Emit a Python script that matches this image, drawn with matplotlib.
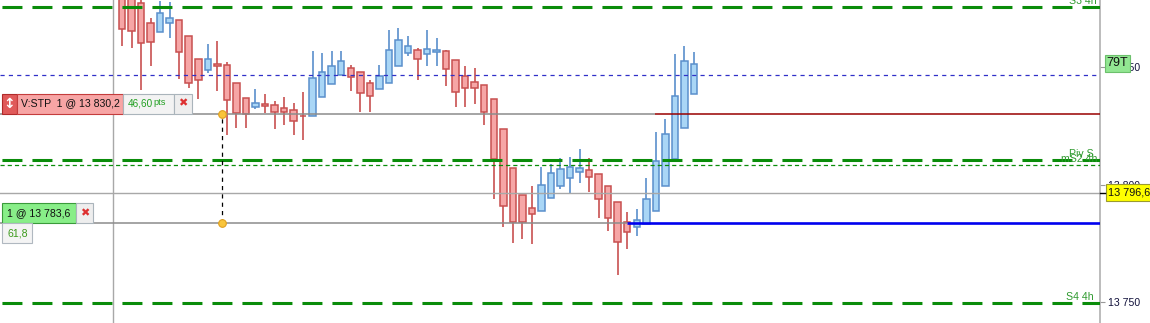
import numpy as np
import matplotlib
matplotlib.use("Agg")
import matplotlib.pyplot as plt
from matplotlib.patches import Rectangle
from matplotlib.transforms import blended_transform_factory

# candle data
opens = [13882.0, 13880.5, 13877.2, 13868.7, 13864.9, 13868.7, 13870.0, 13863.2, 13853.4, 13848.7,
         13851.3, 13850.9, 13843.2, 13836.8, 13833.0, 13834.3, 13833.8, 13832.6, 13831.7, 13829.2,
         13829.1, 13837.2, 13842.8, 13846.6, 13849.6, 13847.9, 13843.2, 13840.6, 13843.2, 13850.4,
         13856.0, 13857.2, 13855.5, 13856.4, 13856.8, 13853.0, 13846.2, 13843.6, 13842.3, 13836.4,
         13823.6, 13807.0, 13795.5, 13790.0, 13788.7, 13794.3, 13799.4, 13802.8, 13805.3, 13806.2,
         13804.5, 13799.4, 13792.6, 13784.0, 13781.9, 13783.2, 13788.7, 13799.4, 13810.9, 13824.0,
         13838.5]
highs = [13885.0, 13883.0, 13879.0, 13870.9, 13878.1, 13877.7, 13870.0, 13863.2, 13853.4, 13859.8,
         13861.1, 13852.1, 13843.2, 13836.8, 13840.6, 13838.5, 13835.5, 13837.2, 13834.7, 13839.4,
         13856.8, 13856.0, 13856.8, 13856.8, 13850.9, 13847.9, 13844.5, 13850.9, 13865.7, 13866.6,
         13863.2, 13858.1, 13865.7, 13862.3, 13857.2, 13853.0, 13850.4, 13849.6, 13842.3, 13836.4,
         13823.6, 13807.0, 13795.5, 13799.4, 13807.4, 13808.7, 13811.3, 13811.7, 13815.1, 13811.3,
         13804.5, 13799.4, 13792.6, 13788.3, 13789.6, 13802.8, 13822.3, 13827.9, 13855.5, 13858.9,
         13856.4]
lows = [13858.9, 13858.1, 13840.2, 13850.4, 13864.9, 13862.3, 13844.9, 13841.1, 13836.4, 13847.4,
        13839.8, 13821.1, 13824.0, 13824.0, 13832.1, 13830.4, 13823.6, 13825.3, 13821.1, 13818.9,
        13829.1, 13837.2, 13842.8, 13846.6, 13839.8, 13830.9, 13830.9, 13840.6, 13843.2, 13850.4,
        13854.7, 13844.5, 13850.4, 13850.4, 13841.9, 13833.0, 13833.0, 13834.3, 13825.3, 13793.8,
        13781.9, 13775.1, 13776.8, 13774.7, 13788.7, 13794.3, 13798.1, 13796.4, 13800.6, 13796.8,
        13785.7, 13780.2, 13761.5, 13772.6, 13778.1, 13783.2, 13788.7, 13799.4, 13810.9, 13824.0,
        13838.5]
closes = [13866.2, 13865.3, 13860.2, 13860.6, 13873.0, 13870.9, 13856.4, 13843.2, 13844.5, 13853.4,
          13850.4, 13836.0, 13830.4, 13830.0, 13834.7, 13833.4, 13830.9, 13830.9, 13827.0, 13829.0,
          13845.3, 13847.9, 13850.4, 13852.6, 13845.7, 13838.9, 13837.7, 13846.2, 13857.2, 13861.5,
          13858.9, 13853.4, 13857.7, 13857.2, 13849.1, 13839.4, 13841.1, 13841.1, 13830.9, 13810.9,
          13790.9, 13784.0, 13784.0, 13787.4, 13799.8, 13804.9, 13806.6, 13807.4, 13807.0, 13803.2,
          13793.8, 13785.7, 13775.5, 13779.8, 13784.9, 13793.8, 13810.0, 13821.5, 13837.7, 13852.6,
          13851.3]

# price levels
S3_4H = 13875.5
BLUE_DASH = 13846.6
STOP = 13830.2
PIV_S = 13810.4
MS2_4H = 13808.3
LAST = 13796.6
ENTRY = 13783.6
S4_4H = 13749.6

ytick_values = [13750, 13800, 13850]
ytick_labels = ["13 750", "13 800", "13 850"]

stop_label = "V:STP  1 @ 13 830,2"
stop_pts = "46,60"
entry_label = "1 @ 13 783,6"
entry_pts = "61,8"
last_label = "13 796,6"
timer_label = "79T"

YMIN, YMAX = 13741.1, 13878.5
XMIN, XMAX = -11.8, 103.6
AX_PX = 1100.0
PP = (YMAX - YMIN) / 323.0  # price per pixel

FONT = ["Liberation Sans", "DejaVu Sans"]
plt.rcParams["font.family"] = FONT
plt.rcParams["lines.scale_dashes"] = False

RED_FILL, RED_EDGE = "#f6a6a6", "#c85050"
BLUE_FILL, BLUE_EDGE = "#a9d6f6", "#5a8fcc"
GREEN = "#0a8c0a"
LABEL_GREEN = "#2f9a2f"


def draw_candles(ax):
    x = np.arange(1, len(opens) + 1)
    o = np.array(opens)
    c = np.array(closes)
    up = c >= o
    fills = np.where(up, BLUE_FILL, RED_FILL)
    edges = np.where(up, BLUE_EDGE, RED_EDGE)
    ax.vlines(x, lows, highs, colors=edges, lw=1.2, zorder=2)
    bottom = np.minimum(o, c)
    height = np.maximum(np.abs(c - o), 0.3)
    ax.bar(x, height, 0.68, bottom=bottom, color=fills, edgecolor=edges,
           linewidth=1.1, zorder=3)


def draw_levels(ax):
    # dashes start ~2 px in from the left edge, like the reference
    thick = (20.2, (14.4, 7.2))
    ax.axhline(S3_4H, color=GREEN, lw=2.2, ls=thick, zorder=4)
    ax.axhline(PIV_S, color=GREEN, lw=2.2, ls=thick, zorder=4)
    ax.axhline(S4_4H, color=GREEN, lw=2.2, ls=thick, zorder=4)
    ax.axhline(MS2_4H, color=GREEN, lw=0.9, ls=(0, (3, 2.2)), zorder=4)
    ax.axhline(BLUE_DASH, color="#3030c8", lw=0.9, ls=(0, (3, 3)), zorder=4)
    ax.axhline(LAST, color="#a8a8a8", lw=1.0, zorder=4)

    ax.hlines(STOP, XMIN, 56.9, color="#8c8c8c", lw=1.1, zorder=4)
    ax.hlines(STOP, 56.9, XMAX, color="#990000", lw=1.1, zorder=4)
    ax.hlines(ENTRY, XMIN, 54.0, color="#8c8c8c", lw=1.1, zorder=4)
    ax.hlines(ENTRY, 54.0, XMAX, color="#0000ee", lw=1.9, zorder=4)

    ax.axvline(0.06, color="#a8a8a8", lw=1.0, zorder=1)
    ax.vlines(11.5, ENTRY, STOP, colors="k", lw=0.9, linestyles=(0, (3, 3)), zorder=5)
    ax.plot([11.5, 11.5], [STOP, ENTRY], "o", ms=5.5, mfc="#f9c53c", mec="#e0a020",
            mew=0.8, zorder=6)


def box(ax, x0, x1, y0, h, fc, ec, lw=0.8):
    trans = blended_transform_factory(ax.transAxes, ax.transData)
    r = Rectangle((x0 / AX_PX, y0), (x1 - x0) / AX_PX, h * PP, transform=trans,
                  facecolor=fc, edgecolor=ec, lw=lw, clip_on=False, zorder=8)
    ax.add_patch(r)


def label(ax, x, y, s, **kw):
    trans = blended_transform_factory(ax.transAxes, ax.transData)
    kw.setdefault("va", "center")
    kw.setdefault("zorder", 9)
    ax.text(x / AX_PX, y, s, transform=trans, clip_on=False, **kw)


def draw_order_tags(ax):
    # stop order tag
    mid = STOP + 10 * PP
    box(ax, 2, 17, STOP, 20, "#e05a5a", "#b02a2a")
    box(ax, 17, 123, STOP, 20, "#f7a5a5", "#c43c3c")
    box(ax, 123, 174, STOP, 20, "#f3f3f3", "#aab4bb")
    box(ax, 174, 192, STOP, 20, "#eeeeee", "#aab4bb")
    label(ax, 9.5, mid, "\u2195", ha="center", color="white", fontsize=10,
          fontweight="bold", family=["DejaVu Sans"])
    label(ax, 21, mid, stop_label, ha="left", fontsize=7.6, color="#111111")
    label(ax, 128, mid, stop_pts, ha="left", fontsize=7.2, color="#22a022")
    label(ax, 153, mid + 0.3, "pts", ha="left", fontsize=6.6, color="#22a022")
    label(ax, 183, mid, "\u2716", ha="center", fontsize=8, color="#dd3030",
          family=["DejaVu Sans"])

    # entry order tag
    mid = ENTRY + 10 * PP
    box(ax, 2, 76, ENTRY, 20, "#88ee88", "#3a9a3a")
    box(ax, 76, 93, ENTRY, 20, "#eeeeee", "#aab4bb")
    label(ax, 7, mid, entry_label, ha="left", fontsize=7.6, color="#111111")
    label(ax, 84.5, mid, "\u2716", ha="center", fontsize=8, color="#dd3030",
          family=["DejaVu Sans"])
    box(ax, 2, 32, ENTRY - 20 * PP, 20, "#f4f4f4", "#b0b8c0")
    label(ax, 7, ENTRY - 10 * PP, entry_pts, ha="left", fontsize=7.6, color="#3a9a1a")


def draw_level_names(ax):
    kw = dict(ha="right", va="baseline", fontsize=7.6, color=LABEL_GREEN, zorder=7)
    label(ax, 1097, S3_4H + 3 * PP, "S3 4h", **kw)
    label(ax, 1094, PIV_S + 3 * PP, "Piv S", **kw)
    label(ax, 1097, MS2_4H + 3.5 * PP, "mS2 4h", **kw)
    label(ax, 1094, S4_4H + 3 * PP, "S4 4h", **kw)


def draw_price_tags(ax):
    timer_y = 13851.5
    box(ax, 1105, 1130, timer_y - 8.5 * PP, 17, "#92e692", "#6cc06c")
    label(ax, 1117.5, timer_y, timer_label, ha="center", fontsize=9, color="#111111")
    box(ax, 1106, 1152, LAST - 8.5 * PP, 17, "#ffff00", "#9a9a30")
    label(ax, 1108, LAST, last_label, ha="left", fontsize=7.8, color="#111111")
    trans = blended_transform_factory(ax.transAxes, ax.transData)
    ax.plot([1.0, 1105 / AX_PX], [LAST, LAST], color="k", lw=1, transform=trans,
            clip_on=False, zorder=8)


fig = plt.figure(figsize=(11.5, 3.23), dpi=100)
ax = fig.add_axes([0, 0, AX_PX / 1150, 1])
ax.set_xlim(XMIN, XMAX)
ax.set_ylim(YMIN, YMAX)

draw_candles(ax)
draw_levels(ax)
draw_order_tags(ax)
draw_level_names(ax)
draw_price_tags(ax)

for side in ["top", "left", "bottom"]:
    ax.spines[side].set_visible(False)
ax.spines["right"].set_color("#b0b0b0")
ax.spines["right"].set_linewidth(1.2)
ax.set_xticks([])
ax.yaxis.tick_right()
ax.set_yticks(ytick_values)
ax.set_yticklabels(ytick_labels)
ax.tick_params(axis="y", length=3.5, width=0.8, color="#999999", pad=2.5,
               labelsize=7.6, labelcolor="#10103a")

fig.savefig("out.png", dpi=100)
